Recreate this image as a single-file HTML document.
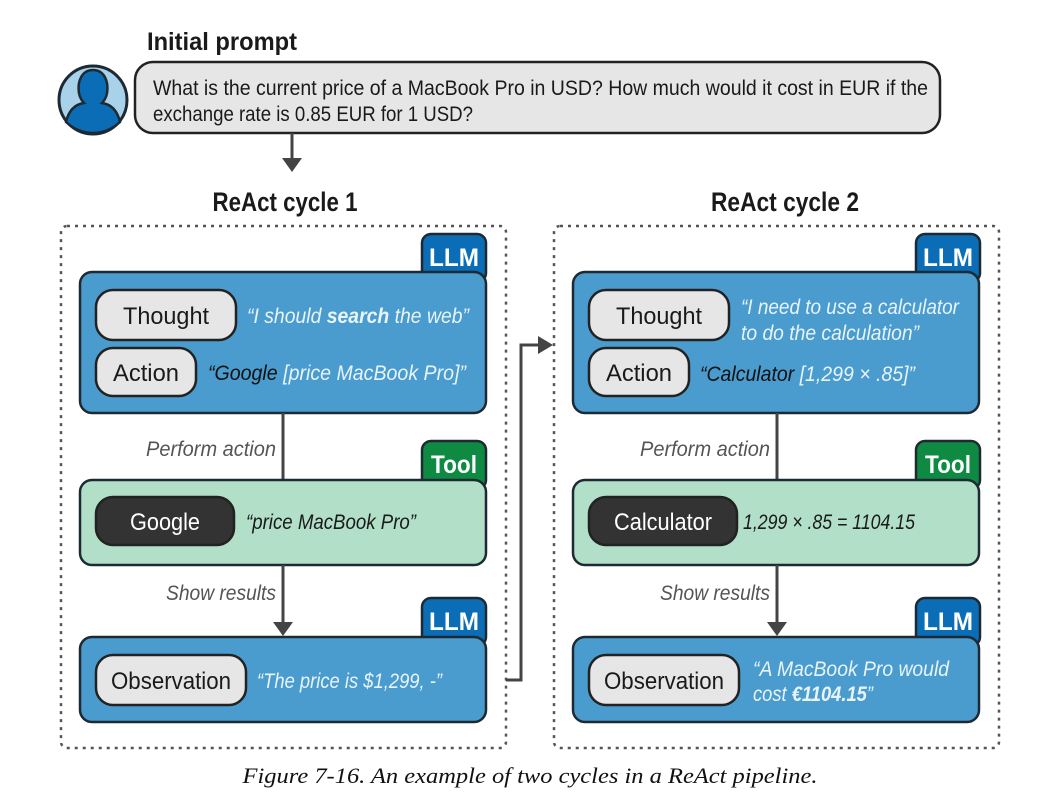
<!DOCTYPE html>
<html><head><meta charset="utf-8"><style>
html,body{margin:0;padding:0;background:#fff;}
svg{display:block;}
text{font-family:"Liberation Sans",sans-serif;}
.pill{fill:#e6e6e6;stroke:#222;stroke-width:2.5;}
.dark{fill:#333;stroke:#222;stroke-width:2.5;}
.llm{fill:#4a9bce;stroke:#1e2a33;stroke-width:2.5;}
.tool{fill:#b2dfc8;stroke:#1e2a33;stroke-width:2.5;}
.tabb{fill:#0a6db5;stroke:#1e2a33;stroke-width:2.5;}
.tabg{fill:#0e8a43;stroke:#1e2a33;stroke-width:2.5;}
.lbl{font-size:24px;fill:#1a1a1a;}
.tab{font-size:25px;fill:#fff;}
.it{font-style:italic;font-size:21px;}
.dash{fill:none;stroke:#555;stroke-width:2.5;stroke-dasharray:3 5;}
.ln{stroke:#444;stroke-width:3;fill:none;}
.cap{font-family:"Liberation Serif",serif;font-style:italic;}
</style></head><body>
<svg width="1054" height="810" viewBox="0 0 1054 810" xmlns="http://www.w3.org/2000/svg">
<!-- header -->
<text x="147" y="50" font-size="25" font-weight="bold" fill="#1a1a1a" textLength="150" lengthAdjust="spacingAndGlyphs">Initial prompt</text>
<circle cx="93" cy="100" r="34" fill="#a8d2ea" stroke="#1e2a33" stroke-width="3"/>
<path d="M66,122 Q70,105 84,103 Q77,96 79,83 Q82,70 93,70 Q104,70 107,83 Q109,96 102,103 Q116,105 120,122 Q108,133 93,133 Q78,133 66,122Z" fill="#0a6db5" stroke="#1e2a33" stroke-width="2.5"/>
<rect x="135" y="62" width="805" height="71" rx="18" fill="#e6e6e6" stroke="#222" stroke-width="2.5"/>
<text x="153" y="95" font-size="21" fill="#1a1a1a" textLength="775" lengthAdjust="spacingAndGlyphs">What is the current price of a MacBook Pro in USD? How much would it cost in EUR if the</text>
<text x="153" y="121" font-size="21" fill="#1a1a1a" textLength="320" lengthAdjust="spacingAndGlyphs">exchange rate is 0.85 EUR for 1 USD?</text>
<line x1="292" y1="133" x2="292" y2="160" class="ln"/>
<polygon points="282,158 302,158 292,172" fill="#444"/>
<text x="285" y="211" font-size="27" font-weight="bold" fill="#1a1a1a" text-anchor="middle" textLength="145" lengthAdjust="spacingAndGlyphs">ReAct cycle 1</text>
<text x="785" y="211" font-size="27" font-weight="bold" fill="#1a1a1a" text-anchor="middle" textLength="148" lengthAdjust="spacingAndGlyphs">ReAct cycle 2</text>

<rect x="61" y="226" width="445" height="522" rx="6" class="dash"/>
<rect x="554" y="226" width="445" height="522" rx="6" class="dash"/>

<!-- connector between cycles -->
<polyline points="506,680 521,680 521,345 540,345" class="ln"/>
<polygon points="538,336 538,354 553,345" fill="#444"/>

<!-- LEFT -->
<rect x="422" y="234" width="64" height="48" rx="9" class="tabb"/>
<text x="454" y="266" class="tab" text-anchor="middle" font-weight="bold" textLength="50" lengthAdjust="spacingAndGlyphs">LLM</text>
<rect x="80" y="272" width="406" height="141" rx="12" class="llm"/>
<rect x="96" y="290" width="140" height="50" rx="17" class="pill"/>
<text x="166" y="324" class="lbl" text-anchor="middle" textLength="86" lengthAdjust="spacingAndGlyphs">Thought</text>
<rect x="96" y="348" width="100" height="48" rx="17" class="pill"/>
<text x="146" y="381" class="lbl" text-anchor="middle" textLength="66" lengthAdjust="spacingAndGlyphs">Action</text>
<text x="247" y="323" class="it" fill="#e8f4fb" textLength="222" lengthAdjust="spacingAndGlyphs">“I should <tspan font-weight="bold">search</tspan> the web”</text>
<text x="208" y="380" class="it" fill="#e8f4fb" textLength="258" lengthAdjust="spacingAndGlyphs"><tspan fill="#111">“Google</tspan> [price MacBook Pro]”</text>

<line x1="283" y1="413" x2="283" y2="480" class="ln"/>
<text x="276" y="456" class="it" fill="#555" text-anchor="end" textLength="130" lengthAdjust="spacingAndGlyphs">Perform action</text>

<rect x="422" y="441" width="64" height="48" rx="9" class="tabg"/>
<text x="454" y="473" class="tab" text-anchor="middle" font-weight="bold" textLength="46" lengthAdjust="spacingAndGlyphs">Tool</text>
<rect x="80" y="480" width="406" height="85" rx="12" class="tool"/>
<rect x="96" y="497" width="138" height="48" rx="17" class="dark"/>
<text x="165" y="530" class="lbl" style="fill:#fff" text-anchor="middle" textLength="70" lengthAdjust="spacingAndGlyphs">Google</text>
<text x="246" y="529" class="it" fill="#1a1a1a" textLength="170" lengthAdjust="spacingAndGlyphs">“price MacBook Pro”</text>

<line x1="283" y1="565" x2="283" y2="624" class="ln"/>
<polygon points="273,622 293,622 283,636" fill="#444"/>
<text x="276" y="600" class="it" fill="#555" text-anchor="end" textLength="110" lengthAdjust="spacingAndGlyphs">Show results</text>

<rect x="422" y="598" width="64" height="48" rx="9" class="tabb"/>
<text x="454" y="630" class="tab" text-anchor="middle" font-weight="bold" textLength="50" lengthAdjust="spacingAndGlyphs">LLM</text>
<rect x="80" y="637" width="406" height="85" rx="12" class="llm"/>
<rect x="96" y="655" width="150" height="50" rx="17" class="pill"/>
<text x="171" y="689" class="lbl" text-anchor="middle" textLength="120" lengthAdjust="spacingAndGlyphs">Observation</text>
<text x="257" y="688" class="it" fill="#e8f4fb" textLength="185" lengthAdjust="spacingAndGlyphs">“The price is $1,299, -”</text>

<!-- RIGHT -->
<rect x="916" y="234" width="64" height="48" rx="9" class="tabb"/>
<text x="948" y="266" class="tab" text-anchor="middle" font-weight="bold" textLength="50" lengthAdjust="spacingAndGlyphs">LLM</text>
<rect x="573" y="272" width="406" height="141" rx="12" class="llm"/>
<rect x="589" y="290" width="140" height="50" rx="17" class="pill"/>
<text x="659" y="324" class="lbl" text-anchor="middle" textLength="86" lengthAdjust="spacingAndGlyphs">Thought</text>
<rect x="589" y="348" width="100" height="48" rx="17" class="pill"/>
<text x="639" y="381" class="lbl" text-anchor="middle" textLength="66" lengthAdjust="spacingAndGlyphs">Action</text>
<text x="741" y="314" class="it" fill="#e8f4fb" textLength="218" lengthAdjust="spacingAndGlyphs">“I need to use a calculator</text>
<text x="741" y="340" class="it" fill="#e8f4fb" textLength="178" lengthAdjust="spacingAndGlyphs">to do the calculation”</text>
<text x="700" y="381" class="it" fill="#e8f4fb" textLength="215" lengthAdjust="spacingAndGlyphs"><tspan fill="#111">“Calculator</tspan> [1,299 × .85]”</text>

<line x1="777" y1="413" x2="777" y2="480" class="ln"/>
<text x="770" y="456" class="it" fill="#555" text-anchor="end" textLength="130" lengthAdjust="spacingAndGlyphs">Perform action</text>

<rect x="916" y="441" width="64" height="48" rx="9" class="tabg"/>
<text x="948" y="473" class="tab" text-anchor="middle" font-weight="bold" textLength="46" lengthAdjust="spacingAndGlyphs">Tool</text>
<rect x="573" y="480" width="406" height="85" rx="12" class="tool"/>
<rect x="589" y="497" width="148" height="48" rx="17" class="dark"/>
<text x="663" y="530" class="lbl" style="fill:#fff" text-anchor="middle" textLength="98" lengthAdjust="spacingAndGlyphs">Calculator</text>
<text x="743" y="529" class="it" fill="#1a1a1a" textLength="172" lengthAdjust="spacingAndGlyphs">1,299 × .85 = 1104.15</text>

<line x1="777" y1="565" x2="777" y2="624" class="ln"/>
<polygon points="767,622 787,622 777,636" fill="#444"/>
<text x="770" y="600" class="it" fill="#555" text-anchor="end" textLength="110" lengthAdjust="spacingAndGlyphs">Show results</text>

<rect x="916" y="598" width="64" height="48" rx="9" class="tabb"/>
<text x="948" y="630" class="tab" text-anchor="middle" font-weight="bold" textLength="50" lengthAdjust="spacingAndGlyphs">LLM</text>
<rect x="573" y="637" width="406" height="85" rx="12" class="llm"/>
<rect x="589" y="655" width="150" height="50" rx="17" class="pill"/>
<text x="664" y="689" class="lbl" text-anchor="middle" textLength="120" lengthAdjust="spacingAndGlyphs">Observation</text>
<text x="753" y="676" class="it" fill="#e8f4fb" textLength="196" lengthAdjust="spacingAndGlyphs">“A MacBook Pro would</text>
<text x="753" y="701" class="it" fill="#e8f4fb" textLength="120" lengthAdjust="spacingAndGlyphs">cost <tspan font-weight="bold">€1104.15</tspan>”</text>

<!-- caption -->
<text x="530" y="783" class="cap" font-size="22" fill="#111" text-anchor="middle" textLength="575" lengthAdjust="spacingAndGlyphs">Figure 7-16. An example of two cycles in a ReAct pipeline.</text>
</svg>
</body></html>
